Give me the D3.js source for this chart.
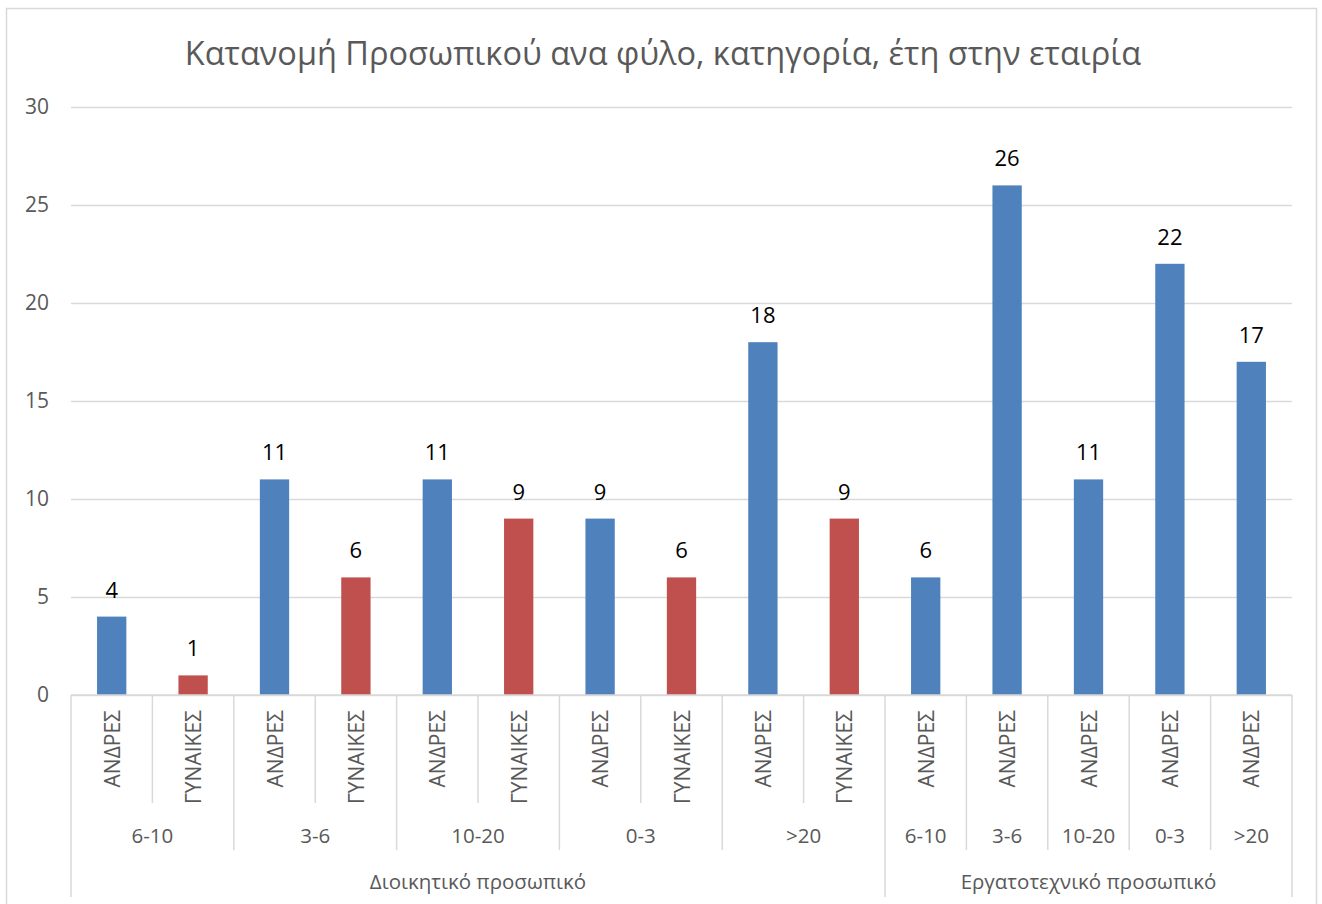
<!DOCTYPE html>
<html>
<head>
<meta charset="utf-8">
<script src="https://cdn.jsdelivr.net/npm/d3@7"></script>
<style>
  body { margin: 0; background: #fff; }
  svg { display: block; }
</style>
</head>
<body>
<svg id="chart" width="1322" height="904"></svg>
<script>
"use strict";

// chart data
var titleText = "Κατανομή Προσωπικού ανα φύλο, κατηγορία, έτη στην εταιρία";
var genders = ["ΑΝΔΡΕΣ", "ΓΥΝΑΙΚΕΣ", "ΑΝΔΡΕΣ", "ΓΥΝΑΙΚΕΣ", "ΑΝΔΡΕΣ", "ΓΥΝΑΙΚΕΣ",
  "ΑΝΔΡΕΣ", "ΓΥΝΑΙΚΕΣ", "ΑΝΔΡΕΣ", "ΓΥΝΑΙΚΕΣ",
  "ΑΝΔΡΕΣ", "ΑΝΔΡΕΣ", "ΑΝΔΡΕΣ", "ΑΝΔΡΕΣ", "ΑΝΔΡΕΣ"];
var years = ["6-10", "6-10", "3-6", "3-6", "10-20", "10-20", "0-3", "0-3", ">20", ">20",
  "6-10", "3-6", "10-20", "0-3", ">20"];
var staffGroups = ["Διοικητικό προσωπικό", "Διοικητικό προσωπικό", "Διοικητικό προσωπικό",
  "Διοικητικό προσωπικό", "Διοικητικό προσωπικό", "Διοικητικό προσωπικό",
  "Διοικητικό προσωπικό", "Διοικητικό προσωπικό", "Διοικητικό προσωπικό",
  "Διοικητικό προσωπικό",
  "Εργατοτεχνικό προσωπικό", "Εργατοτεχνικό προσωπικό", "Εργατοτεχνικό προσωπικό",
  "Εργατοτεχνικό προσωπικό", "Εργατοτεχνικό προσωπικό"];
var values = [4, 1, 11, 6, 11, 9, 9, 6, 18, 9, 6, 26, 11, 22, 17];
var yTicks = [0, 5, 10, 15, 20, 25, 30];

var colors = { "ΑΝΔΡΕΣ": "#4f81bd", "ΓΥΝΑΙΚΕΣ": "#c0504d" };
var gridColor = "#d9d9d9";
var textColor = "#595959";
var font = "'Open Sans', 'Noto Sans', sans-serif";

var svg = d3.select("#chart");

var plotLeft = 71, plotRight = 1292, plotTop = 107, plotBottom = 695;
var level1Bottom = 803, level2Bottom = 850, level3Bottom = 897;

// outer chart border
svg.append("rect")
  .attr("x", 6.5).attr("y", 8.5)
  .attr("width", 1310).attr("height", 905)
  .style("fill", "#fff")
  .style("stroke", gridColor)
  .style("stroke-width", 1.5);

var idx = d3.range(values.length);

var x = d3.scaleBand()
  .domain(idx)
  .range([plotLeft, plotRight])
  .paddingInner(0.64)
  .paddingOuter(0.32);

var y = d3.scaleLinear()
  .domain([0, 30])
  .range([plotBottom, plotTop]);

var step = x.step();
function cellLeft(i) { return plotLeft + i * step; }

// title
svg.append("text")
  .attr("x", 663)
  .attr("y", 65)
  .attr("text-anchor", "middle")
  .style("font-family", font)
  .style("font-size", "32.5px")
  .style("fill", textColor)
  .text(titleText);

// gridlines + y tick labels
var yAxis = d3.axisLeft(y)
  .tickValues(yTicks)
  .tickSize(-(plotRight - plotLeft))
  .tickPadding(22);
var yg = svg.append("g")
  .attr("transform", "translate(" + plotLeft + ",0)")
  .call(yAxis);
yg.select(".domain").remove();
yg.selectAll(".tick line")
  .style("stroke", gridColor)
  .style("stroke-width", 1.5);
yg.selectAll(".tick text")
  .style("font-family", font)
  .style("font-size", "21px")
  .style("fill", textColor);

// bars
svg.selectAll("rect.bar")
  .data(idx)
  .enter().append("rect")
  .attr("class", "bar")
  .attr("x", function (i) { return x(i); })
  .attr("width", x.bandwidth())
  .attr("y", function (i) { return y(values[i]); })
  .attr("height", function (i) { return y(0) - y(values[i]); })
  .style("fill", function (i) { return colors[genders[i]]; });

// data labels
svg.selectAll("text.val")
  .data(idx)
  .enter().append("text")
  .attr("class", "val")
  .attr("x", function (i) { return x(i) + x.bandwidth() / 2; })
  .attr("y", function (i) { return y(values[i]) - 19; })
  .attr("text-anchor", "middle")
  .style("font-family", font)
  .style("font-size", "22px")
  .style("fill", "#000")
  .text(function (i) { return values[i]; });

// category axis line
svg.append("line")
  .attr("x1", plotLeft).attr("x2", plotRight)
  .attr("y1", plotBottom).attr("y2", plotBottom)
  .style("stroke", gridColor)
  .style("stroke-width", 1.5);

// separators: deeper where the outer levels change
d3.range(values.length + 1).forEach(function (b) {
  var bottom = level1Bottom;
  if (b === 0 || b === values.length || staffGroups[b] !== staffGroups[b - 1]) {
    bottom = level3Bottom;
  } else if (years[b] !== years[b - 1]) {
    bottom = level2Bottom;
  }
  svg.append("line")
    .attr("x1", cellLeft(b)).attr("x2", cellLeft(b))
    .attr("y1", plotBottom).attr("y2", bottom)
    .style("stroke", gridColor)
    .style("stroke-width", 1.5);
});

// level 1: rotated gender labels
svg.selectAll("text.gender")
  .data(idx)
  .enter().append("text")
  .attr("class", "gender")
  .attr("transform", function (i) {
    return "translate(" + (x(i) + x.bandwidth() / 2 + 8) + "," + 710 + ") rotate(-90)";
  })
  .attr("text-anchor", "end")
  .style("font-family", font)
  .style("font-size", "21px")
  .style("fill", textColor)
  .text(function (i) { return genders[i]; });

// group consecutive labels into spans
function spans(keyFn) {
  var out = [];
  idx.forEach(function (i) {
    var k = keyFn(i);
    var last = out[out.length - 1];
    if (last && last.key === k) {
      last.n += 1;
    } else {
      out.push({ key: k, start: i, n: 1 });
    }
  });
  return out;
}

var yearSpans = spans(function (i) { return staffGroups[i] + "|" + years[i]; });
svg.selectAll("text.years")
  .data(yearSpans)
  .enter().append("text")
  .attr("class", "years")
  .attr("x", function (s) { return cellLeft(s.start) + s.n * step / 2; })
  .attr("y", 843)
  .attr("text-anchor", "middle")
  .style("font-family", font)
  .style("font-size", "20.5px")
  .style("fill", textColor)
  .text(function (s) { return years[s.start]; });

var groupSpans = spans(function (i) { return staffGroups[i]; });
svg.selectAll("text.staff")
  .data(groupSpans)
  .enter().append("text")
  .attr("class", "staff")
  .attr("x", function (s) { return cellLeft(s.start) + s.n * step / 2; })
  .attr("y", 889)
  .attr("text-anchor", "middle")
  .style("font-family", font)
  .style("font-size", "20.5px")
  .style("fill", textColor)
  .text(function (s) { return staffGroups[s.start]; });
</script>
</body>
</html>
